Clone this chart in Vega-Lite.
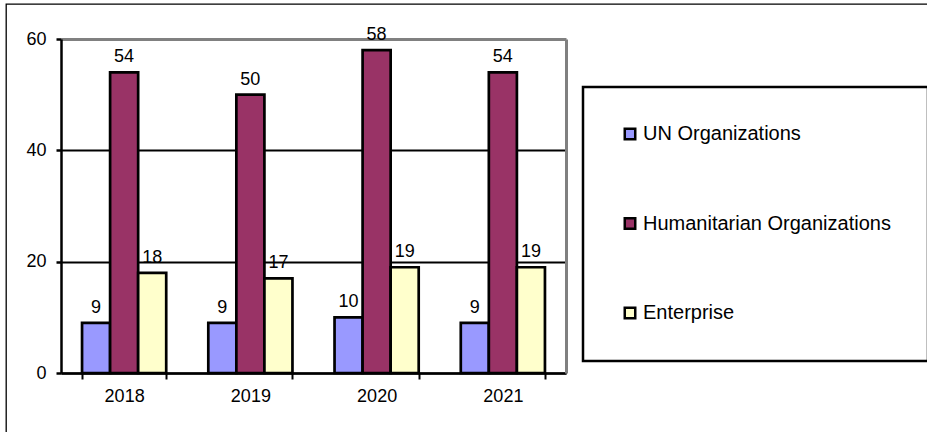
{
  "$schema": "https://vega.github.io/schema/vega-lite/v6.json",
  "width": 924,
  "height": 431,
  "autosize": {"type": "none"},
  "padding": {"left": 6, "top": 4, "right": -3, "bottom": -3},
  "background": "white",
  "config": {
    "view": {"stroke": "black", "strokeWidth": 1.3},
    "font": "Liberation Sans",
    "text": {"font": "Liberation Sans"},
    "legend": {"strokeWidth": 2.5}
  },
  "data": {
    "values": [
      {"year": "2018", "category": "UN Organizations", "value": 9},
      {"year": "2018", "category": "Humanitarian Organizations", "value": 54},
      {"year": "2018", "category": "Enterprise", "value": 18},
      {"year": "2019", "category": "UN Organizations", "value": 9},
      {"year": "2019", "category": "Humanitarian Organizations", "value": 50},
      {"year": "2019", "category": "Enterprise", "value": 17},
      {"year": "2020", "category": "UN Organizations", "value": 10},
      {"year": "2020", "category": "Humanitarian Organizations", "value": 58},
      {"year": "2020", "category": "Enterprise", "value": 19},
      {"year": "2021", "category": "UN Organizations", "value": 9},
      {"year": "2021", "category": "Humanitarian Organizations", "value": 54},
      {"year": "2021", "category": "Enterprise", "value": 19}
    ]
  },
  "encoding": {
    "x": {
      "field": "year",
      "type": "nominal",
      "scale": {"range": [55, 560], "paddingInner": 0.3333, "paddingOuter": 0.1667},
      "axis": {
        "orient": "bottom",
        "offset": -62,
        "tickBand": "extent",
        "labelAngle": 0,
        "domainColor": "black",
        "domainWidth": 2.5,
        "tickColor": "black",
        "tickSize": 6,
        "tickWidth": 2,
        "labelFontSize": 18,
        "labelColor": "black",
        "labelPadding": 8,
        "title": null,
        "grid": false
      }
    },
    "xOffset": {
      "field": "category",
      "type": "nominal",
      "sort": ["UN Organizations", "Humanitarian Organizations", "Enterprise"],
      "scale": {"paddingInner": 0, "paddingOuter": 0}
    },
    "y": {
      "field": "value",
      "type": "quantitative",
      "scale": {"domain": [0, 60], "range": [369, 35], "nice": false, "zero": true}
    }
  },
  "layer": [
    {
      "mark": {"type": "bar", "stroke": "black", "strokeWidth": 2.7},
      "encoding": {
        "y": {
          "field": "value",
          "type": "quantitative",
          "axis": {
            "orient": "left",
            "offset": -55,
            "values": [0, 20, 40, 60],
            "grid": true,
            "gridColor": {"condition": {"test": "datum.value === 60", "value": "#808080"}, "value": "black"},
            "gridWidth": {"condition": {"test": "datum.value === 60", "value": 3}, "value": 2},
            "domainColor": "black",
            "domainWidth": 2.5,
            "tickColor": "black",
            "tickSize": 5,
            "tickWidth": 2.5,
            "labelFontSize": 18,
            "labelColor": "black",
            "labelPadding": 10,
            "title": null
          }
        },
        "color": {
          "field": "category",
          "type": "nominal",
          "sort": ["UN Organizations", "Humanitarian Organizations", "Enterprise"],
          "scale": {
            "domain": ["UN Organizations", "Humanitarian Organizations", "Enterprise"],
            "range": ["#9999FF", "#993366", "#FFFFCC"]
          },
          "legend": {
            "title": null,
            "orient": "none",
            "legendX": 577,
            "legendY": 83,
            "strokeColor": "black",
            "fillColor": "white",
            "padding": 37,
            "symbolType": "square",
            "symbolSize": 110,
            "symbolStrokeColor": "black",
            "symbolStrokeWidth": 2.5,
            "symbolOpacity": 1,
            "symbolOffset": 0,
            "labelFontSize": 20,
            "labelColor": "black",
            "labelOffset": 3,
            "labelLimit": 400,
            "rowPadding": 67.5
          }
        }
      }
    },
    {
      "mark": {"type": "text", "baseline": "alphabetic", "align": "center", "dy": -10, "fontSize": 18, "color": "black"},
      "encoding": {
        "text": {"field": "value", "type": "quantitative"},
        "y": {
          "field": "value",
          "type": "quantitative",
          "axis": {
            "orient": "right",
            "offset": -364,
            "domainColor": "#808080",
            "domainWidth": 3,
            "ticks": false,
            "labels": false,
            "grid": false,
            "title": null
          }
        }
      }
    }
  ],
  "resolve": {"axis": {"y": "independent"}}
}
